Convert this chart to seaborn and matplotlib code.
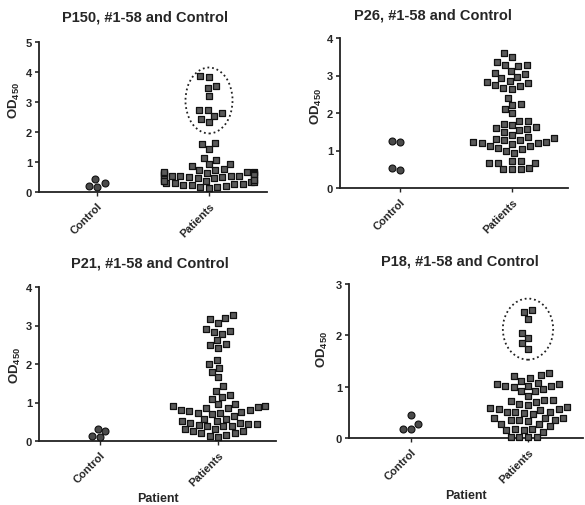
import matplotlib
matplotlib.use("Agg")
import matplotlib.pyplot as plt
from matplotlib.patches import Ellipse
import seaborn as sns
import pandas as pd
import warnings
warnings.filterwarnings("ignore")

# ---------------- data ----------------
categories = ["Control", "Patients"]
titles = ["P150, #1-58 and Control", "P26, #1-58 and Control",
          "P21, #1-58 and Control", "P18, #1-58 and Control"]
ytops = [5, 4, 4, 3]

p150_control = [0.30, 0.18, 0.20, 0.44]
p150_patients = [3.85, 3.87, 3.47, 3.52, 3.20, 2.75, 2.62, 2.75, 2.55, 2.45, 2.32,
                 1.65, 1.45, 1.60, 1.15, 1.07, 0.93, 0.78, 0.75, 0.75, 0.88, 0.95,
                 0.68, 0.66, 0.63, 0.60, 0.58, 0.55, 0.52, 0.50, 0.48, 0.47, 0.50, 0.52,
                 0.55, 0.57, 0.60, 0.62, 0.65, 0.67,
                 0.42, 0.40, 0.38, 0.36, 0.33, 0.30, 0.27, 0.24, 0.20, 0.16, 0.13, 0.18,
                 0.22, 0.26, 0.30, 0.34, 0.38, 0.41]

p26_control = [1.25, 1.23, 0.47, 0.53]
p26_patients = [3.60, 3.50, 3.35, 3.27, 3.25, 3.28,
                3.12, 3.03, 2.93, 2.96, 3.06,
                2.82, 2.75, 2.67, 2.65, 2.73, 2.80, 2.86,
                2.40, 2.22, 2.12, 2.25, 2.00, 1.80, 1.80,
                1.68, 1.60, 1.55, 1.50, 1.58, 1.63, 1.72,
                1.42, 1.33, 1.27, 1.22, 1.20, 1.18, 1.20, 1.23, 1.27, 1.31, 1.35,
                1.12, 1.08, 1.00, 0.93, 1.05, 1.12,
                0.72, 0.68, 0.66, 0.50, 0.50, 0.50, 0.53, 0.68, 0.72]

p21_control = [0.26, 0.10, 0.13, 0.30]
p21_patients = [3.26, 3.16, 3.07, 3.19, 2.87, 2.79, 2.84, 2.91, 2.63, 2.50, 2.42, 2.52,
                2.10, 2.00, 1.90, 1.80, 1.65, 1.42, 1.30, 1.15, 1.10, 1.19, 0.97, 0.96,
                0.90, 0.85, 0.80, 0.77, 0.74, 0.70, 0.72, 0.76, 0.80, 0.85, 0.90, 0.88,
                0.58, 0.52, 0.48, 0.45, 0.42, 0.40, 0.44, 0.48, 0.53, 0.58, 0.65,
                0.38, 0.30, 0.25, 0.20, 0.15, 0.10, 0.14, 0.20, 0.27, 0.32, 0.38]

p18_control = [0.44, 0.27, 0.17, 0.18]
p18_patients = [2.50, 2.46, 2.32, 2.05, 1.95, 1.85, 1.74,
                1.22, 1.17, 1.12, 1.21, 1.26,
                1.06, 1.02, 1.00, 0.95, 0.91, 0.92, 1.01, 1.02, 1.06, 1.07,
                0.75, 0.72, 0.67, 0.65, 0.70, 0.75, 0.82,
                0.56, 0.55, 0.51, 0.49, 0.47, 0.50, 0.50, 0.56, 0.59, 0.60,
                0.38, 0.36, 0.36, 0.34, 0.27, 0.23, 0.28, 0.36, 0.38, 0.39,
                0.17, 0.15, 0.12, 0.02, 0.01, 0.01, 0.02, 0.15, 0.18]

controls = [p150_control, p26_control, p21_control, p18_control]
patients = [p150_patients, p26_patients, p21_patients, p18_patients]

# ---------------- style ----------------
sns.set_style("ticks")
plt.rcParams["font.family"] = ["Liberation Sans", "DejaVu Sans"]
plt.rcParams["font.weight"] = "bold"
plt.rcParams["mathtext.fontset"] = "custom"
plt.rcParams["mathtext.rm"] = "Liberation Sans:bold"
plt.rcParams["mathtext.it"] = "Liberation Sans:bold"
plt.rcParams["mathtext.bf"] = "Liberation Sans:bold"
plt.rcParams["mathtext.default"] = "rm"

W, H = 585, 506
fig = plt.figure(figsize=(W / 100, H / 100), dpi=100)

# pixel layout: left, right, top, bottom, control x, patients x
boxes = [(39, 267, 43, 193, 97, 209),
         (340, 568, 39, 189, 400, 512),
         (39, 276, 288, 442, 100, 218),
         (349, 583, 285, 439, 411, 528)]
title_pos = [(145, 18), (433, 15), (150, 263), (460, 262)]
ylab_pos = [(-0.075, 0.62), (-0.072, 0.55), (-0.068, 0.50), (-0.082, 0.58)]
ellipses = {0: (1.0, 3.05, 0.42, 2.2), 3: (1.0, 2.12, 0.43, 1.19)}

for i in range(4):
    l, r, t, b, cx, px = boxes[i]
    ax = fig.add_axes([l / W, (H - b) / H, (r - l) / W, (b - t) / H])
    df_c = pd.DataFrame({"group": ["Control"] * len(controls[i]), "OD": controls[i]})
    df_p = pd.DataFrame({"group": ["Patients"] * len(patients[i]), "OD": patients[i]})
    sns.swarmplot(data=df_c, x="group", y="OD", order=categories, ax=ax,
                  marker="o", size=5.0, color="#4a4a4a", edgecolor="#111111",
                  linewidth=0.8, clip_on=False)
    sns.swarmplot(data=df_p, x="group", y="OD", order=categories, ax=ax,
                  marker="s", size=5.0, color="#5a5a5a", edgecolor="#111111",
                  linewidth=0.9, clip_on=False)
    sp = px - cx
    ax.set_xlim(-(cx - l) / sp, 1 + (r - px) / sp)
    ax.set_ylim(0, ytops[i])
    ax.set_yticks(range(ytops[i] + 1))
    sns.despine(ax=ax)
    for s in ["left", "bottom"]:
        ax.spines[s].set_linewidth(1.3)
        ax.spines[s].set_color("#222222")
    ax.tick_params(axis="y", length=3, width=1.2, labelsize=8, pad=2)
    ax.tick_params(axis="x", length=3, width=1.0, labelsize=8, pad=3)
    ax.set_xticks([0, 1])
    ax.set_xticklabels(categories, rotation=45, ha="right", rotation_mode="anchor",
                       fontweight="bold")
    for lab in ax.get_yticklabels():
        lab.set_fontweight("bold")
    ax.set_ylabel(r"OD$_{450}$", fontsize=9.5, fontweight="bold")
    ax.yaxis.set_label_coords(*ylab_pos[i])
    if i >= 2:
        ax.set_xlabel("Patient", fontsize=9, fontweight="bold", va="top")
        ax.xaxis.set_label_coords(0.5, -0.33)
    else:
        ax.set_xlabel("")
    if i in ellipses:
        ex, ey, ew, eh = ellipses[i]
        ax.add_patch(Ellipse((ex, ey), ew, eh, fill=False, linestyle=(0, (1, 1.6)),
                             linewidth=1.3, edgecolor="#222222", clip_on=False))
    tx, ty = title_pos[i]
    fig.text(tx / W, 1 - ty / H, titles[i], ha="center", va="center",
             fontsize=10.5, fontweight="bold")

fig.savefig("out.png", dpi=100)
